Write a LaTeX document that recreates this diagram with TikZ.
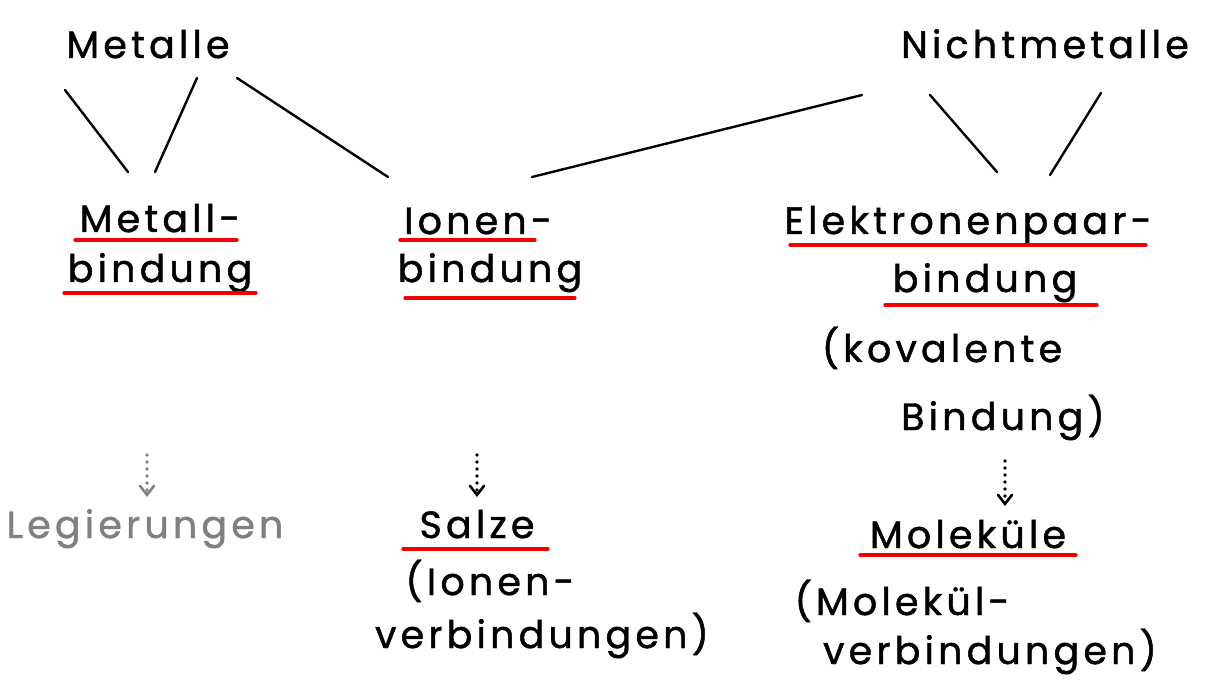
\documentclass[tikz,border=0pt]{standalone}
\usepackage{fontspec}
\newfontfamily\hw{Poppins}[LetterSpace=11, FakeBold=1.2]
\usetikzlibrary{arrows.meta}
\definecolor{hgray}{RGB}{128,128,128}
\definecolor{hred}{RGB}{240,0,0}
\tikzset{
  lbl/.style={anchor=base, inner sep=0pt, font=\hw\fontsize{38}{40}\selectfont},
  conn/.style={line width=2.4pt, line cap=round},
  uline/.style={hred, line width=3.2pt, line cap=round},
  dotarrow/.style={line width=3.6pt, line cap=round, dash pattern=on 0pt off 7pt,
    -{Straight Barb[length=9pt,width=14pt,line cap=round,line width=2.6pt]}}
}
\begin{document}
\begin{tikzpicture}[x=1pt,y=-1pt]
\useasboundingbox (0,0) rectangle (1231,684);
% headers
\node[lbl] (metalle) at (148,58) {Metalle};
\node[lbl] (nicht) at (1045,58) {Nichtmetalle};
% bond types
\node[lbl] (mb1) at (160,232) {Metall-};
\node[lbl] (mb2) at (160,282) {bindung};
\node[lbl] (ib1) at (478,234) {Ionen-};
\node[lbl] (ib2) at (490,282) {bindung};
\node[lbl] (eb1) at (968,234) {Elektronenpaar-};
\node[lbl] (eb2) at (985,292) {bindung};
\node[lbl] (kov1) at (942,362) {(kovalente};
\node[lbl] (kov2) at (1003,430) {Bindung)};
% products
\node[lbl, text=hgray] (leg) at (145,538) {Legierungen};
\node[lbl] (salze) at (477,538) {Salze};
\node[lbl] (sz1) at (490,595) {(Ionen-};
\node[lbl] (sz2) at (542,648) {verbindungen)};
\node[lbl] (mol) at (968,548) {Moleküle};
\node[lbl] (ml1) at (902,615) {(Molekül-};
\node[lbl] (ml2) at (990,664) {verbindungen)};
% connector endpoints
\coordinate (m1) at (65,90);   \coordinate (mb1a) at (128,172);
\coordinate (m2) at (197,78);  \coordinate (mb1b) at (155,172);
\coordinate (m3) at (237,78);  \coordinate (ib1a) at (388,177);
\coordinate (n1) at (862,95);  \coordinate (ib1b) at (532,177);
\coordinate (n2) at (930,95);  \coordinate (eb1a) at (997,172);
\coordinate (n3) at (1101,93); \coordinate (eb1b) at (1050,175);
\draw[conn] (m1) -- (mb1a);
\draw[conn] (m2) -- (mb1b);
\draw[conn] (m3) -- (ib1a);
\draw[conn] (n1) -- (ib1b);
\draw[conn] (n2) -- (eb1a);
\draw[conn] (n3) -- (eb1b);
% underlines
\draw[uline] (75,240) -- (237,240);
\draw[uline] (64,293) -- (256,293);
\draw[uline] (400,240) -- (535,240);
\draw[uline] (405,298) -- (575,298);
\draw[uline] (790,245) -- (1146,245);
\draw[uline] (885,305) -- (1097,305);
\draw[uline] (403,549) -- (548,549);
\draw[uline] (860,555) -- (1076,555);
% dotted arrows
\coordinate (la) at (147,455); \coordinate (lb) at (147,497);
\coordinate (sa) at (477,455); \coordinate (sb) at (477,497);
\coordinate (oa) at (1005,461); \coordinate (ob) at (1005,506);
\draw[dotarrow, hgray] (la) -- (lb);
\draw[dotarrow] (sa) -- (sb);
\draw[dotarrow] (oa) -- (ob);
\end{tikzpicture}
\end{document}
